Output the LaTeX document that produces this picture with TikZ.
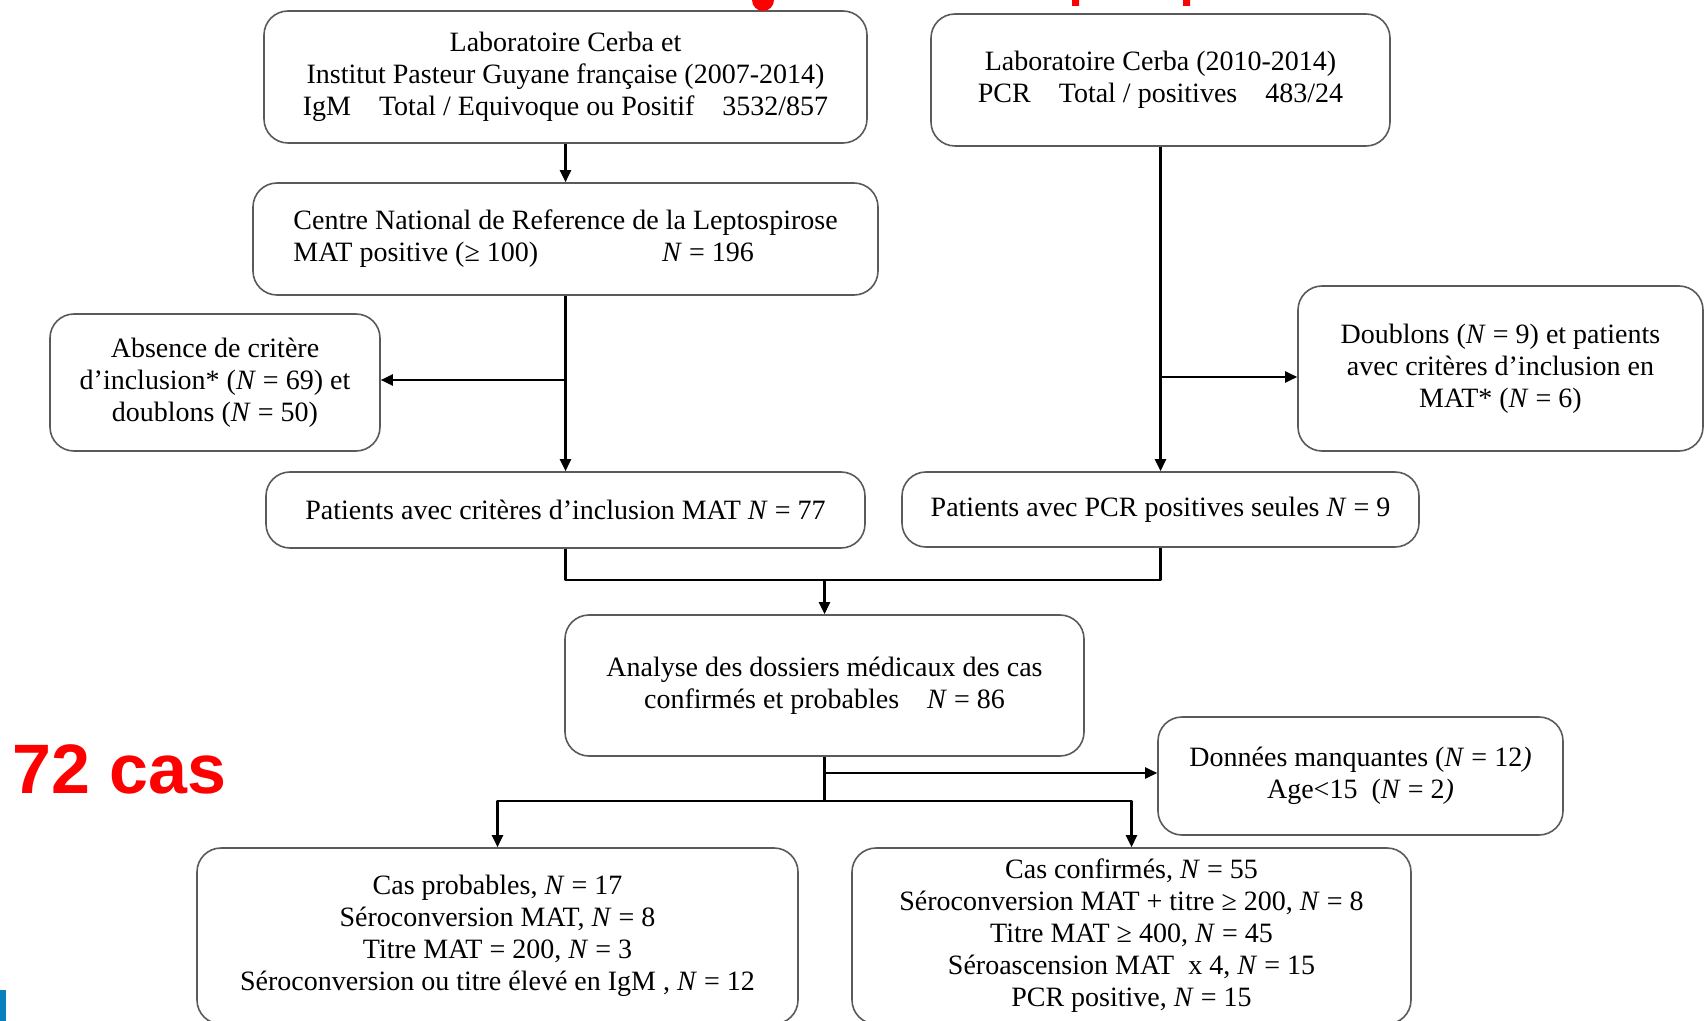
\documentclass[tikz,border=0pt]{standalone}
\usepackage{fontspec}
\setmainfont{Liberation Serif}
\newfontfamily\headfont{Liberation Sans}
\usetikzlibrary{arrows.meta,positioning}
\definecolor{framegray}{RGB}{90,90,90}
\definecolor{countred}{RGB}{255,0,0}
\definecolor{barblue}{RGB}{8,128,192}
\newcommand{\nb}{\textit{N}}
\tikzset{
  boxnode/.style={draw=framegray, line width=0.8pt, rounded corners=12pt,
    align=center, inner sep=0pt, font=\fontsize{14pt}{16pt}\selectfont},
  link/.style={line width=1.2pt, -{Triangle[length=6pt,width=5.5pt]}},
  plain/.style={line width=1.2pt}
}
\begin{document}
\begin{tikzpicture}[x=0.5pt, y=-0.5pt, line join=round]
		\useasboundingbox (0,0) rectangle (1708,1021);
		% source boxes
		\node[boxnode, minimum width=301.5pt, minimum height=66pt] (igm) at (565.5,77)
			{Laboratoire Cerba et\\Institut Pasteur Guyane française (2007-2014)\\IgM\quad Total / Equivoque ou Positif\quad 3532/857};
		\node[boxnode, minimum width=229.5pt, minimum height=66pt] (pcr) at (1160.5,80)
			{Laboratoire Cerba (2010-2014)\\PCR\quad Total / positives\quad 483/24};
		\node[boxnode, minimum width=312.5pt, minimum height=56pt, align=left] (cnr) at (565.5,239)
			{Centre National de Reference de la Leptospirose\\MAT\ positive (≥ 100)\hspace*{62pt}\nb{} = 196};
		% exclusions
		\node[boxnode, minimum width=165pt, minimum height=68.5pt] (absent) at (215,382.5)
			{Absence de critère\\d’inclusion* (\nb{} = 69) et\\doublons (\nb{} = 50)};
		\node[boxnode, minimum width=202.5pt, minimum height=82.5pt] (doublons) at (1500.5,368.5)
			{Doublons (\nb{} = 9) et patients\\avec critères d’inclusion en\\MAT*\ (\nb{} = 6)};
		% included patients
		\node[boxnode, minimum width=299.5pt, minimum height=38pt] (incmat) at (565.5,510)
			{Patients avec critères d’inclusion MAT \nb{} = 77};
		\node[boxnode, minimum width=258.5pt, minimum height=37.5pt] (incpcr) at (1160.5,509.5)
			{Patients avec PCR positives seules \nb{} = 9};
		\node[boxnode, minimum width=259.5pt, minimum height=70.5pt] (analyse) at (824.5,685.5)
			{Analyse des dossiers médicaux des cas\\confirmés et probables\quad\nb{} = 86};
		\node[boxnode, minimum width=202.5pt, minimum height=59pt] (manque) at (1360.5,776)
			{Données manquantes (\nb{} = 12\textit{)}\\Age<15\ \ (\nb{} = 2\textit{)}};
		% results
		\node[boxnode, minimum width=300.5pt, minimum height=88pt] (probables) at (497.5,936)
			{Cas probables, \nb{} = 17\\Séroconversion MAT, \nb{} = 8\\Titre MAT = 200, \nb{} = 3\\Séroconversion ou titre élevé en IgM , \nb{} = 12};
		\node[boxnode, minimum width=279.5pt, minimum height=88pt] (confirmes) at (1131.5,936)
			{Cas confirmés, \nb{} = 55\\Séroconversion MAT + titre ≥ 200, \nb{} = 8\\Titre MAT ≥ 400, \nb{} = 45\\Séroascension MAT\ \ x 4, \nb{} = 15\\PCR positive, \nb{} = 15};
		\node[anchor=base west, text=countred, font=\headfont\bfseries\fontsize{35pt}{40pt}\selectfont, inner sep=0pt] (total) at (12,793) {72 cas};
		% junctions
		\path
			(cnr.south |- 0,380) coordinate (cnrbranch)
			(pcr.south |- 0,377) coordinate (pcrbranch)
			(824.5,580) coordinate (merge)
			(analyse.south |- 0,773) coordinate (anabranch)
			(824.5,801) coordinate (split)
		;
		\draw[link] (igm) -- (cnr);
		\draw[link] (cnr) -- (incmat);
		\draw[link] (cnrbranch) -- (cnrbranch -| absent.east);
		\draw[link] (pcr) -- (incpcr);
		\draw[link] (pcrbranch) -- (pcrbranch -| doublons.west);
		\draw[plain] (incmat.south) |- (merge) -| (incpcr.south);
		\draw[link] (merge) -- (analyse.north);
		\draw[plain] (analyse.south) -- (split);
		\draw[link] (anabranch) -- (anabranch -| manque.west);
		\draw[link] (split) -| (probables.north);
		\draw[link] (split) -| (confirmes.north);
		% cut-off title and side bar
		\fill[countred] (774,0) arc[start angle=0, end angle=180, radius=11] -- cycle;
		\fill[countred] (1072,0) rectangle (1079,6) (1183,0) rectangle (1190,6);
		\fill[barblue] (0,990) rectangle (6,1021);
\end{tikzpicture}
\end{document}
